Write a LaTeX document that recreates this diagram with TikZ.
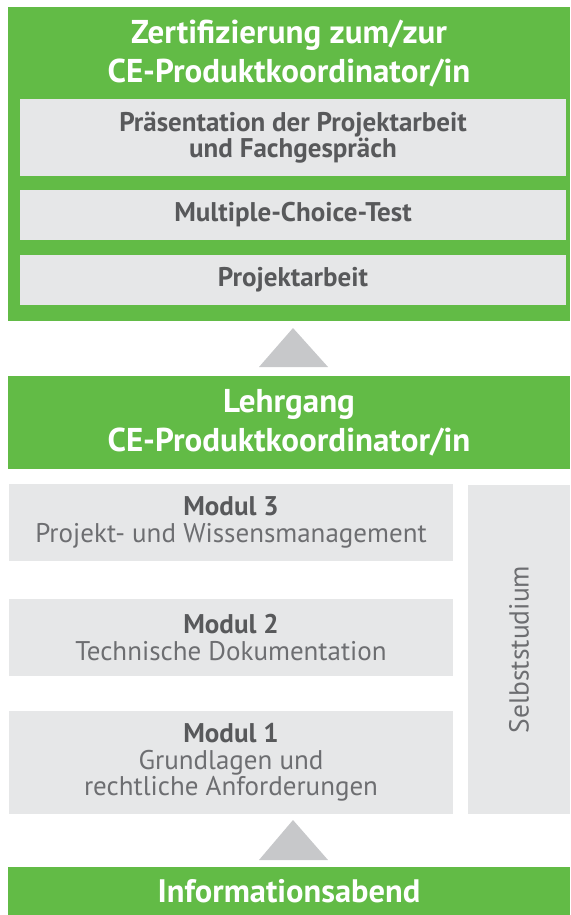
\documentclass[tikz,border=0pt]{standalone}
\usepackage{fontspec}
\setmainfont{PT Sans}
\definecolor{stagegreen}{HTML}{62BB46}
\definecolor{boxgray}{HTML}{E6E7E8}
\definecolor{textgray}{HTML}{58595B}
\definecolor{lightgray}{HTML}{6D6E71}
\definecolor{arrowgray}{HTML}{C7C8CA}
\tikzset{
  stage/.style={fill=stagegreen, inner sep=0pt, minimum width=562pt},
  stagetext/.style={text=white, align=center, inner sep=0pt,
    font=\bfseries\fontsize{33}{39}\selectfont},
  exambox/.style={fill=boxgray, inner sep=0pt, minimum width=546pt, text=textgray,
    align=center, font=\bfseries\fontsize{27}{26}\selectfont},
  modulbox/.style={fill=boxgray, inner sep=0pt, minimum width=444pt, text=lightgray,
    align=center, font=\fontsize{27}{26.5}\selectfont},
}
\begin{document}
\begin{tikzpicture}[x=1pt, y=-1pt]
  \useasboundingbox (0,0) rectangle (570,915);
  % Zertifizierung
  \node[stage, minimum height=314pt] (cert) at (289,164) {};
  \node[stagetext] (certtitle) at (289,54) {Zertifizierung zum/zur\\CE-Produktkoordinator/in};
  \node[exambox, minimum height=77pt] (praes) at (293,137.5) {Präsentation der Projektarbeit\\und Fachgespräch};
  \node[exambox, minimum height=50pt] (mctest) at (293,215) {Multiple-Choice-Test};
  \node[exambox, minimum height=50pt] (projekt) at (293,280) {Projektarbeit};
  \fill[arrowgray] (259,367) -- (293,328) -- (328,367) -- cycle;
  % Lehrgang
  \node[stage, minimum height=93pt] (lehrgang) at (289,422.5) {};
  \node[stagetext] (lehrtitle) at (289,423) {Lehrgang\\CE-Produktkoordinator/in};
  \node[modulbox, minimum height=77pt] (modul3) at (231,522.5)
    {\textbf{\color{textgray}Modul 3}\\Projekt- und Wissensmanagement};
  \node[modulbox, minimum height=77pt] (modul2) at (231,637.5)
    {\textbf{\color{textgray}Modul 2}\\Technische Dokumentation};
  \node[modulbox, minimum height=103pt] (modul1) at (231,762.5)
    {\textbf{\color{textgray}Modul 1}\\Grundlagen und\\rechtliche Anforderungen};
  \node[modulbox, minimum width=102pt, minimum height=329pt] (selbst) at (519,649.5) {};
  \node[text=lightgray, rotate=90, font=\fontsize{27.5}{28}\selectfont] (selbsttext) at (selbst.center) {Selbststudium};
  \fill[arrowgray] (259,860) -- (293,820) -- (328,860) -- cycle;
  % Informationsabend
  \node[stage, minimum height=48pt] (info) at (289,891) {};
  \node[stagetext, font=\bfseries\fontsize{32.5}{38}\selectfont] (infotitle) at (289,891) {Informationsabend};
\end{tikzpicture}
\end{document}
